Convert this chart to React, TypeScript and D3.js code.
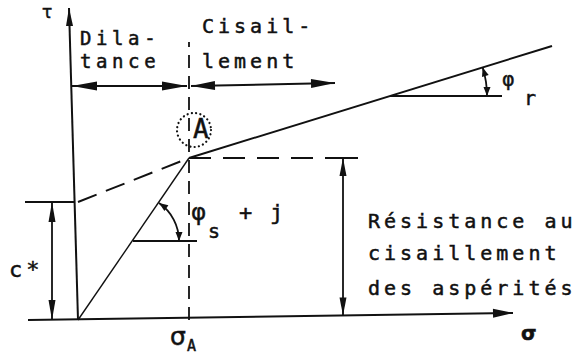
import React from 'react';
import * as d3 from 'd3';

const W = 583;
const H = 358;

// Stress coordinates (σ, τ) of the shear strength model
const sigmaA = 111;
const tauA = 162;
const cStar = 118;
const asperityEnvelope: [number, number][] = [[0, 0], [sigmaA, tauA]];
const dilatancyExtension: [number, number][] = [[0, cStar], [sigmaA, tauA]];
const residualEnvelope: [number, number][] = [[sigmaA, tauA], [474, 274]];
const residualReference: [number, number][] = [[312, 224], [424, 224]];
const peakReference: [number, number][] = [[55, 79], [119, 79]];

// Axes (slightly skewed, as drawn by hand)
const tauAxis: [number, number][] = [[0, 0], [-9, 312]];
const sigmaAxis: [number, number][] = [[-50, 0], [435, 7]];
const sigmaALine: [number, number][] = [[sigmaA, 0], [sigmaA, 278]];
const asperityLevel: [number, number][] = [[sigmaA, tauA], [248, tauA]];
const asperityLevelEnd: [number, number][] = [[248, tauA], [280, tauA]];
const asperityArrow: [number, number][] = [[265, tauA], [265, 4.5]];
const cStarLevel: [number, number][] = [[-53, cStar], [-3, cStar]];
const cStarArrow: [number, number][] = [[-26, cStar], [-26, 0]];
const dilatancyZone: [number, number][] = [[-6, 234], [109, 234]];
const shearZone: [number, number][] = [[113, 234], [257, 237]];

// Labels
const zoneDilatance = ['Dila-', 'tance'];
const zoneShear = ['Cisail-', 'lement'];
const asperityText = ['Résistance au', 'cisaillement', 'des aspérités'];

const x = d3.scaleLinear().domain([0, 475]).range([78, 553]);
const y = d3.scaleLinear().domain([0, 300]).range([320, 20]);
const line = d3
  .line<[number, number]>()
  .x((d) => x(d[0]))
  .y((d) => y(d[1]));

type P = [number, number];
const px = (d: [number, number]): P => [x(d[0]), y(d[1])];

function head(tip: P, dir: P, len: number, hw: number): string {
  const n = Math.hypot(dir[0], dir[1]);
  const ux = dir[0] / n;
  const uy = dir[1] / n;
  const bx = tip[0] - ux * len;
  const by = tip[1] - uy * len;
  return `M${tip[0]},${tip[1]}L${bx - uy * hw},${by + ux * hw}L${bx + uy * hw},${by - ux * hw}Z`;
}

function endHead(seg: [number, number][], len: number, hw: number): string {
  const a = px(seg[0]);
  const b = px(seg[1]);
  return head(b, [b[0] - a[0], b[1] - a[1]], len, hw);
}
function startHead(seg: [number, number][], len: number, hw: number): string {
  const a = px(seg[0]);
  const b = px(seg[1]);
  return head(a, [a[0] - b[0], a[1] - b[1]], len, hw);
}

// angle arc between a reference horizontal and an envelope, with arrows at both ends
function angleArc(center: P, r: number, a0: number, len: number, hw: number) {
  const p = d3.path();
  p.arc(center[0], center[1], r, a0, 0, false);
  const s: P = [center[0] + r * Math.cos(a0), center[1] + r * Math.sin(a0)];
  const e: P = [center[0] + r, center[1]];
  return {
    arc: p.toString(),
    h0: head(s, [Math.sin(a0), -Math.cos(a0)], len, hw),
    h1: head(e, [0, 1], len, hw),
  };
}

const ink = '#111';

export default function App() {
  const A = px([sigmaA, tauA]);
  const O = px([0, 0]);
  // φs + j : angle of the asperity envelope
  const peakCenter = px(peakReference[0]);
  const peakAngle = Math.atan2(A[1] - O[1], A[0] - O[0]);
  const phiS = angleArc(peakCenter, 46, peakAngle, 9, 3.5);
  // φr : angle of the residual envelope
  const resCenter = px(residualReference[0]);
  const R1 = px(residualEnvelope[1]);
  const resAngle = Math.atan2(R1[1] - A[1], R1[0] - A[0]);
  const phiR = angleArc(resCenter, 97, resAngle, 9, 3.5);

  const circleC = px([116, 190]);
  const mono = 'DejaVu Sans Mono, monospace';
  const sans = 'DejaVu Sans, sans-serif';

  return (
    <svg
      width={W}
      height={H}
      viewBox={`0 0 ${W} ${H}`}
      style={{ position: 'absolute', left: 0, top: 0, background: '#fff' }}
    >
      <g stroke={ink} fill="none" strokeWidth={2}>
        {/* axes */}
        <path d={line(tauAxis)!} />
        <path d={line(sigmaAxis)!} />
        {/* σA guide */}
        <path d={line(sigmaALine)!} strokeDasharray="13 8" strokeWidth={1.8} />
        {/* envelopes */}
        <path d={line(dilatancyExtension)!} strokeDasharray="20 10" />
        <path d={line(asperityEnvelope)!} strokeWidth={1.4} />
        <path d={line(residualEnvelope)!} />
        <path d={line(residualReference)!} />
        <path d={line(peakReference)!} />
        {/* asperity strength dimension */}
        <path d={line(asperityLevel)!} strokeDasharray="22 12" />
        <path d={line(asperityLevelEnd)!} />
        <path d={line(asperityArrow)!} strokeWidth={1.8} />
        {/* c* dimension */}
        <path d={line(cStarLevel)!} />
        <path d={line(cStarArrow)!} strokeWidth={1.8} />
        {/* zone arrows */}
        <path d={line(dilatancyZone)!} />
        <path d={line(shearZone)!} />
        {/* angle arcs */}
        <path d={phiS.arc} strokeWidth={1.8} />
        <path d={phiR.arc} strokeWidth={1.8} />
        {/* point A marker */}
        <circle
          cx={circleC[0]}
          cy={circleC[1]}
          r={17}
          strokeWidth={2.2}
          strokeDasharray="0.1 4.2"
          strokeLinecap="round"
        />
      </g>

      <g fill={ink}>
        <path d={endHead(tauAxis, 18, 3.5)} />
        <path d={endHead(sigmaAxis, 20, 4.5)} />
        <path d={startHead(asperityArrow, 18, 3.5)} />
        <path d={endHead(asperityArrow, 18, 3.5)} />
        <path d={startHead(cStarArrow, 20, 3.5)} />
        <path d={endHead(cStarArrow, 20, 3.5)} />
        <path d={startHead(dilatancyZone, 25, 4.5)} />
        <path d={endHead(dilatancyZone, 25, 4.5)} />
        <path d={startHead(shearZone, 24, 4.5)} />
        <path d={endHead(shearZone, 24, 4.5)} />
        <path d={phiS.h0} />
        <path d={phiS.h1} />
        <path d={phiR.h0} />
        <path d={phiR.h1} />
      </g>

      <g fill={ink} stroke={ink} strokeWidth={0.5} fontFamily={mono} fontSize={20} style={{ letterSpacing: '4px' }}>
        <text x={80} y={45} fontSize={19} style={{ letterSpacing: '4.6px' }}>{zoneDilatance[0]}</text>
        <text x={80} y={68} fontSize={19} style={{ letterSpacing: '4.6px' }}>{zoneDilatance[1]}</text>
        <text x={202} y={33}>{zoneShear[0]}</text>
        <text x={202} y={68}>{zoneShear[1]}</text>
        {asperityText.map((t, i) => (
          <text key={t} x={368} y={[228, 260, 295][i]}>
            {t}
          </text>
        ))}
      </g>

      <g fill={ink} stroke={ink} strokeWidth={0.5}>
        <text x={42} y={18} fontFamily={sans} fontSize={17}>τ</text>
        <text x={9} y={277} fontFamily={mono} fontSize={22} style={{ letterSpacing: '4px' }}>
          c*
        </text>
        <text x={193} y={138} fontFamily={mono} fontSize={26}>A</text>
        <text x={191} y={220} fontFamily={sans} fontSize={23}>φ</text>
        <text x={208} y={238} fontFamily={mono} fontSize={20}>s</text>
        <text x={239} y={220} fontFamily={mono} fontSize={22}>+</text>
        <text x={270} y={220} fontFamily={mono} fontSize={22}>j</text>
        <text x={502} y={86} fontFamily={sans} fontSize={19}>φ</text>
        <text x={524} y={105} fontFamily={mono} fontSize={20}>r</text>
        <text x={170} y={345} fontFamily={sans} fontSize={25}>σ</text>
        <text x={187} y={351} fontFamily={mono} fontSize={15}>A</text>
        <text x={521} y={340} fontFamily={sans} fontSize={20} fontWeight="bold">σ</text>
      </g>
    </svg>
  );
}
